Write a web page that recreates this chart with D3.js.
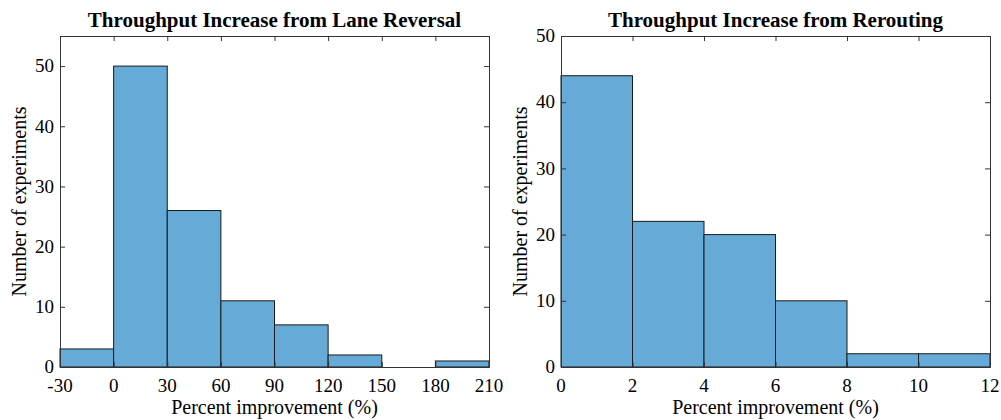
<!DOCTYPE html>
<html><head><meta charset="utf-8">
<script src="https://cdn.jsdelivr.net/npm/d3@7"></script>
<style>body{margin:0;background:#fff}svg{display:block}text{font-family:"Liberation Serif","Times New Roman",serif;fill:#000}</style>
</head><body>
<svg id="c" width="1001" height="420"></svg>
<script>
const leftTitle = "Throughput Increase from Lane Reversal";
const leftEdges = [-30, 0, 30, 60, 90, 120, 150, 180, 210];
const leftCounts = [3, 50, 26, 11, 7, 2, 0, 1];
const leftXTicks = [-30, 0, 30, 60, 90, 120, 150, 180, 210];
const leftYTicks = [0, 10, 20, 30, 40, 50];

const rightTitle = "Throughput Increase from Rerouting";
const rightEdges = [0, 2, 4, 6, 8, 10, 12];
const rightCounts = [44, 22, 20, 10, 2, 2];
const rightXTicks = [0, 2, 4, 6, 8, 10, 12];
const rightYTicks = [0, 10, 20, 30, 40, 50];

const xLabel = "Percent improvement (%)";
const yLabel = "Number of experiments";

const svg = d3.select("#c");

function panel(opt) {
  const {x0, x1, y0, y1, edges, counts, xTicks, yTicks, yMax, title} = opt;
  const x = d3.scaleLinear().domain([edges[0], edges[edges.length-1]]).range([x0, x1]);
  const y = d3.scaleLinear().domain([0, yMax]).range([y1, y0]);
  const g = svg.append("g");
  const bins = counts.map((c, i) => ({a: edges[i], b: edges[i+1], c}));
  g.selectAll("rect.bar").data(bins).join("rect")
    .attr("x", d => x(d.a)).attr("width", d => x(d.b) - x(d.a))
    .attr("y", d => y(d.c)).attr("height", d => y(0) - y(d.c))
    .attr("fill", "#66aad7").attr("stroke", "#1a1a1a").attr("stroke-width", 1);
  const tl = 5;
  const style = a => {
    a.select(".domain").attr("stroke", "#333");
    a.selectAll(".tick line").attr("stroke", "#333");
    a.selectAll("text").remove();
  };
  g.append("g").attr("transform", `translate(0,${y1})`)
    .call(d3.axisBottom(x).tickValues(xTicks).tickSize(-tl).tickSizeOuter(0)).call(style);
  g.append("g").attr("transform", `translate(0,${y0})`)
    .call(d3.axisTop(x).tickValues(xTicks).tickSize(-tl).tickSizeOuter(0)).call(style);
  g.append("g").attr("transform", `translate(${x0},0)`)
    .call(d3.axisLeft(y).tickValues(yTicks).tickSize(-tl).tickSizeOuter(0)).call(style);
  g.append("g").attr("transform", `translate(${x1},0)`)
    .call(d3.axisRight(y).tickValues(yTicks).tickSize(-tl).tickSizeOuter(0)).call(style);
  g.selectAll("text.xt").data(xTicks).join("text").attr("class", "xt")
    .attr("x", d => x(d)).attr("y", 392).attr("text-anchor", "middle")
    .style("font-size", "19px").text(d => d);
  g.selectAll("text.yt").data(yTicks).join("text").attr("class", "yt")
    .attr("x", x0 - 6).attr("y", d => y(d)).attr("dy", "0.33em").attr("text-anchor", "end")
    .style("font-size", "19px").text(d => d);
  g.append("text").attr("x", (x0+x1)/2).attr("y", 27).attr("text-anchor", "middle")
    .style("font-weight", "bold").style("font-size", "21px").text(title);
  g.append("text").attr("x", (x0+x1)/2).attr("y", 414).attr("text-anchor", "middle")
    .style("font-size", "20px").text(xLabel);
  g.append("text").attr("transform", `translate(${x0-34},${(y0+y1)/2}) rotate(-90)`)
    .attr("text-anchor", "middle").style("font-size", "20px").text(yLabel);
}

panel({x0: 60, x1: 489, y0: 36, y1: 367, edges: leftEdges, counts: leftCounts,
  xTicks: leftXTicks, yTicks: leftYTicks, yMax: 55, title: leftTitle});
panel({x0: 561, x1: 990, y0: 36, y1: 367, edges: rightEdges, counts: rightCounts,
  xTicks: rightXTicks, yTicks: rightYTicks, yMax: 50, title: rightTitle});
</script>
</body></html>
